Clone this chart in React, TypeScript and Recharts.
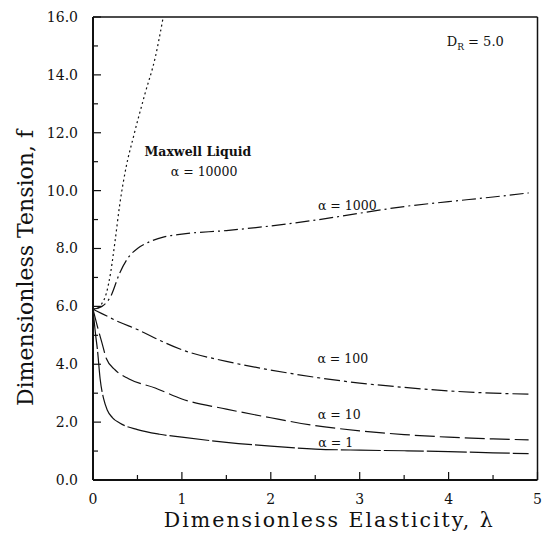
import { LineChart, Line, XAxis, YAxis, ReferenceLine, ReferenceDot } from "recharts";

/* Dimensionless tension f vs elasticity λ, D_R = 5.0 */

const maxwellX = [0, 0.05, 0.1, 0.15, 0.2, 0.25, 0.3, 0.375, 0.45, 0.585, 0.7, 0.79];
const maxwellF = [5.9, 5.95, 6.1, 6.45, 7.2, 8.3, 9.5, 10.85, 11.8, 13.35, 14.6, 16.0];

const a1000X = [0, 0.1, 0.2, 0.3, 0.4, 0.5, 0.6, 0.8, 1.0, 1.5, 2.0, 2.5, 3.0, 3.5, 4.0, 4.5, 4.9];
const a1000F = [5.9, 6.0, 6.35, 7.15, 7.7, 8.0, 8.18, 8.4, 8.5, 8.62, 8.78, 8.98, 9.22, 9.45, 9.62, 9.78, 9.92];

const a100X = [0, 0.1, 0.3, 0.5, 0.7, 1.0, 1.5, 2.0, 2.5, 3.0, 3.5, 4.0, 4.5, 4.9];
const a100F = [5.9, 5.75, 5.45, 5.2, 4.9, 4.5, 4.1, 3.8, 3.55, 3.35, 3.2, 3.08, 3.0, 2.97];

const a10X = [0, 0.05, 0.1, 0.15, 0.25, 0.4, 0.7, 1.0, 1.5, 2.0, 2.5, 3.0, 3.5, 4.0, 4.5, 4.9];
const a10F = [5.9, 5.3, 4.75, 4.2, 3.8, 3.5, 3.18, 2.8, 2.45, 2.15, 1.88, 1.7, 1.57, 1.48, 1.42, 1.39];

const a1X = [0, 0.03, 0.05, 0.08, 0.12, 0.16, 0.22, 0.3, 0.5, 0.75, 1.0, 1.5, 2.0, 2.5, 3.0, 3.5, 4.0, 4.5, 4.9];
const a1F = [5.9, 5.0, 4.5, 3.5, 2.8, 2.42, 2.15, 1.97, 1.74, 1.58, 1.48, 1.3, 1.17, 1.07, 1.03, 1.01, 0.98, 0.94, 0.91];

const xTicks = [0, 0.5, 1, 1.5, 2, 2.5, 3, 3.5, 4, 4.5, 5];
const yTicks = [0, 1, 2, 3, 4, 5, 6, 7, 8, 9, 10, 11, 12, 13, 14, 15, 16];

const zip = (xs: number[], ys: number[]) => xs.map((x, i) => ({ x, f: ys[i] }));

const FONT = "'DejaVu Serif', serif";
const INK = "#111";

/* inward ticks: majors longer and labelled */
const XTick = (p: any) => {
  const v = p.payload.value;
  const major = Number.isInteger(v);
  return (
    <g>
      <line x1={p.x} x2={p.x} y1={p.y} y2={p.y - (major ? 8 : 5)} stroke={INK} strokeWidth={1.2} />
      {major && (
        <text x={p.x} y={p.y + 24} textAnchor="middle" fontFamily={FONT} fontSize={14} fill={INK}>
          {v}
        </text>
      )}
    </g>
  );
};

const YTick = (p: any) => {
  const v = p.payload.value;
  const major = v % 2 === 0;
  return (
    <g>
      <line x1={p.x} x2={p.x + (major ? 8 : 5)} y1={p.y} y2={p.y} stroke={INK} strokeWidth={1.2} />
      {major && (
        <text x={p.x - 15} y={p.y} dy="0.35em" textAnchor="end" fontFamily={FONT} fontSize={14} fill={INK}>
          {v.toFixed(1)}
        </text>
      )}
    </g>
  );
};

const XTitle = (p: any) => {
  const { x, y, width } = p.viewBox;
  return (
    <text x={x + width / 2 + 14} y={y + 47} textAnchor="middle" fontFamily={FONT} fontSize={20.5} letterSpacing={2} fill={INK}>
      Dimensionless Elasticity, λ
    </text>
  );
};

const YTitle = (p: any) => {
  const { x } = p.viewBox;
  const cx = x + 25;
  const cy = 260;
  return (
    <text x={cx} y={cy} transform={`rotate(-90 ${cx} ${cy})`} textAnchor="middle" fontFamily={FONT} fontSize={22} fill={INK}>
      Dimensionless Tension, f
    </text>
  );
};

const note = (value: string, bold = false) => ({
  value,
  position: "center" as const,
  fontFamily: FONT,
  fontSize: 12.5,
  fontWeight: bold ? 600 : 400,
  fill: INK,
});

const DrLabel = (p: any) => {
  const { x, y, width, height } = p.viewBox;
  return (
    <text x={x + (width || 0) / 2} y={y + (height || 0) / 2} dy="0.35em" textAnchor="middle" fontFamily={FONT} fontSize={13} fill={INK}>
      D<tspan fontSize={9} dy="4">R</tspan>
      <tspan dy="-4"> = 5.0</tspan>
    </text>
  );
};

export default function App() {
  const line = { type: "monotone" as const, dataKey: "f", stroke: INK, strokeWidth: 1.2, dot: false, isAnimationActive: false };
  return (
    <LineChart width={534} height={524} margin={{ top: 9, right: 4.5, left: 0, bottom: 0 }}>
      <XAxis
        type="number"
        dataKey="x"
        domain={[0, 5]}
        ticks={xTicks}
        interval={0}
        tickSize={0}
        tickMargin={0}
        tickLine={false}
        tick={<XTick />}
        height={52}
        stroke={INK}
        strokeWidth={2}
        allowDuplicatedCategory={false}
        label={<XTitle />}
      />
      <YAxis
        type="number"
        domain={[0, 16]}
        allowDataOverflow
        ticks={yTicks}
        interval={0}
        tickSize={0}
        tickMargin={0}
        tickLine={false}
        tick={<YTick />}
        width={85}
        stroke={INK}
        strokeWidth={2}
        label={<YTitle />}
      />
      <ReferenceLine y={16} stroke={INK} strokeWidth={1.5} />
      <ReferenceLine x={5} stroke={INK} strokeWidth={1.5} />

      <Line {...line} data={zip(maxwellX, maxwellF)} strokeDasharray="2 3" />
      <Line {...line} data={zip(a1000X, a1000F)} strokeDasharray="14 4 2 4" />
      <Line {...line} data={zip(a100X, a100F)} strokeDasharray="16 4 3 4" />
      <Line {...line} data={zip(a10X, a10F)} strokeDasharray="20 5" />
      <Line {...line} data={zip(a1X, a1F)} strokeDasharray="40 3" />

      <ReferenceDot x={1.18} y={11.34} r={0} label={note("Maxwell Liquid", true)} />
      <ReferenceDot x={1.25} y={10.65} r={0} label={note("α = 10000")} />
      <ReferenceDot x={2.86} y={9.49} r={0} label={note("α = 1000")} />
      <ReferenceDot x={2.81} y={4.21} r={0} label={note("α = 100")} />
      <ReferenceDot x={2.77} y={2.27} r={0} label={note("α = 10")} />
      <ReferenceDot x={2.73} y={1.31} r={0} label={note("α = 1")} />
      <ReferenceDot x={4.3} y={15.14} r={0} label={<DrLabel />} />
    </LineChart>
  );
}
